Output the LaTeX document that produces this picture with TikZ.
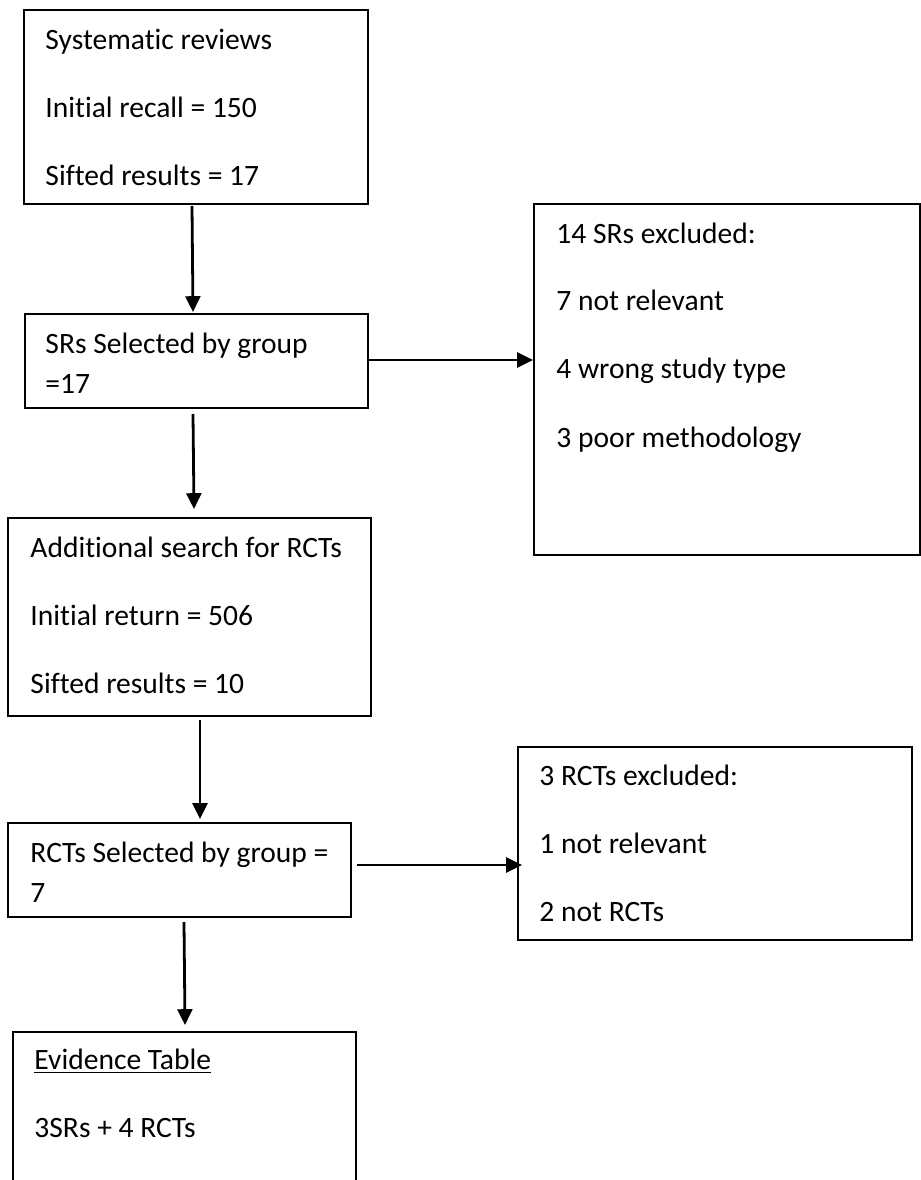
\documentclass[tikz,border=0pt]{standalone}
\usepackage{fontspec}
\setmainfont[Ligatures=NoCommon]{Carlito}
\usetikzlibrary{arrows.meta,fit}

\tikzset{
  box/.style={draw, line width=0.85pt, inner sep=0pt},
  txt/.style={anchor=base west, inner sep=0pt, font=\fontsize{12.7}{15}\selectfont},
  flow/.style={->, line width=1.2pt},
  >={Triangle[length=6.8pt,width=6.4pt]}
}

\begin{document}
\begin{tikzpicture}[x=0.43pt, y=-0.43pt]
\useasboundingbox (0,0) rectangle (921,1180);
\clip (0,0) rectangle (921,1180);
% blocks
\node [box, fit={(24,10) (368,204)}] (sysrev) {};
\node [box, fit={(25,314) (368,408)}] (srsel) {};
\node [box, fit={(534,204) (920,555)}] (srexcl) {};
\node [box, fit={(8,518) (371,716)}] (addsearch) {};
\node [box, fit={(8,823) (351,917)}] (rctsel) {};
\node [box, fit={(518,747) (912,940)}] (rctexcl) {};
\node [box, fit={(13,1032) (356,1200)}] (evidence) {};
% texts
\node [txt] (t1) at (45,49) {Systematic reviews};
\node [txt] (t2) at (45,117) {Initial recall = 150};
\node [txt] (t3) at (45,185) {Sifted results = 17};
\node [txt] (t4) at (45,353) {SRs Selected by group};
\node [txt] (t5) at (45,393) {=17};
\node [txt] (t6) at (556,243) {14 SRs excluded:};
\node [txt] (t7) at (556,310) {7 not relevant};
\node [txt] (t8) at (556,378) {4 wrong study type};
\node [txt] (t9) at (556,447) {3 poor methodology};
\node [txt] (t10) at (30,557) {Additional search for RCTs};
\node [txt] (t11) at (30,625) {Initial return = 506};
\node [txt] (t12) at (30,693) {Sifted results = 10};
\node [txt] (t13) at (30,862) {RCTs Selected by group =};
\node [txt] (t14) at (30,902) {7};
\node [txt] (t15) at (539,785) {3 RCTs excluded:};
\node [txt] (t16) at (539,853) {1 not relevant};
\node [txt] (t17) at (539,921) {2 not RCTs};
\node [txt] (t18) at (34,1069) {\underline{Evidence Table}};
\node [txt] (t19) at (34,1137) {3SRs + 4 RCTs};
% arrows
\draw [flow] ([shift={(-4,1)}]sysrev.south) -- ([shift={(-3.5,-1)}]srsel.north);
\draw [flow] ([shift={(-3.5,5)}]srsel.south) -- ([shift={(4.5,-8)}]addsearch.north);
\draw [flow] ([shift={(10.5,3)}]addsearch.south) -- ([shift={(20.5,-3)}]rctsel.north);
\draw [flow] ([shift={(4.5,4)}]rctsel.south) -- ([shift={(0.5,-6)}]evidence.north);
\draw [flow] ([shift={(0,-1)}]srsel.east) -- ([shift={(0,-1)}]srsel.east -| srexcl.west);
\draw [flow] ([shift={(5,-5)}]rctsel.east) -- ([shift={(5,-5)}]rctsel.east -| rctexcl.west);
\end{tikzpicture}
\end{document}
